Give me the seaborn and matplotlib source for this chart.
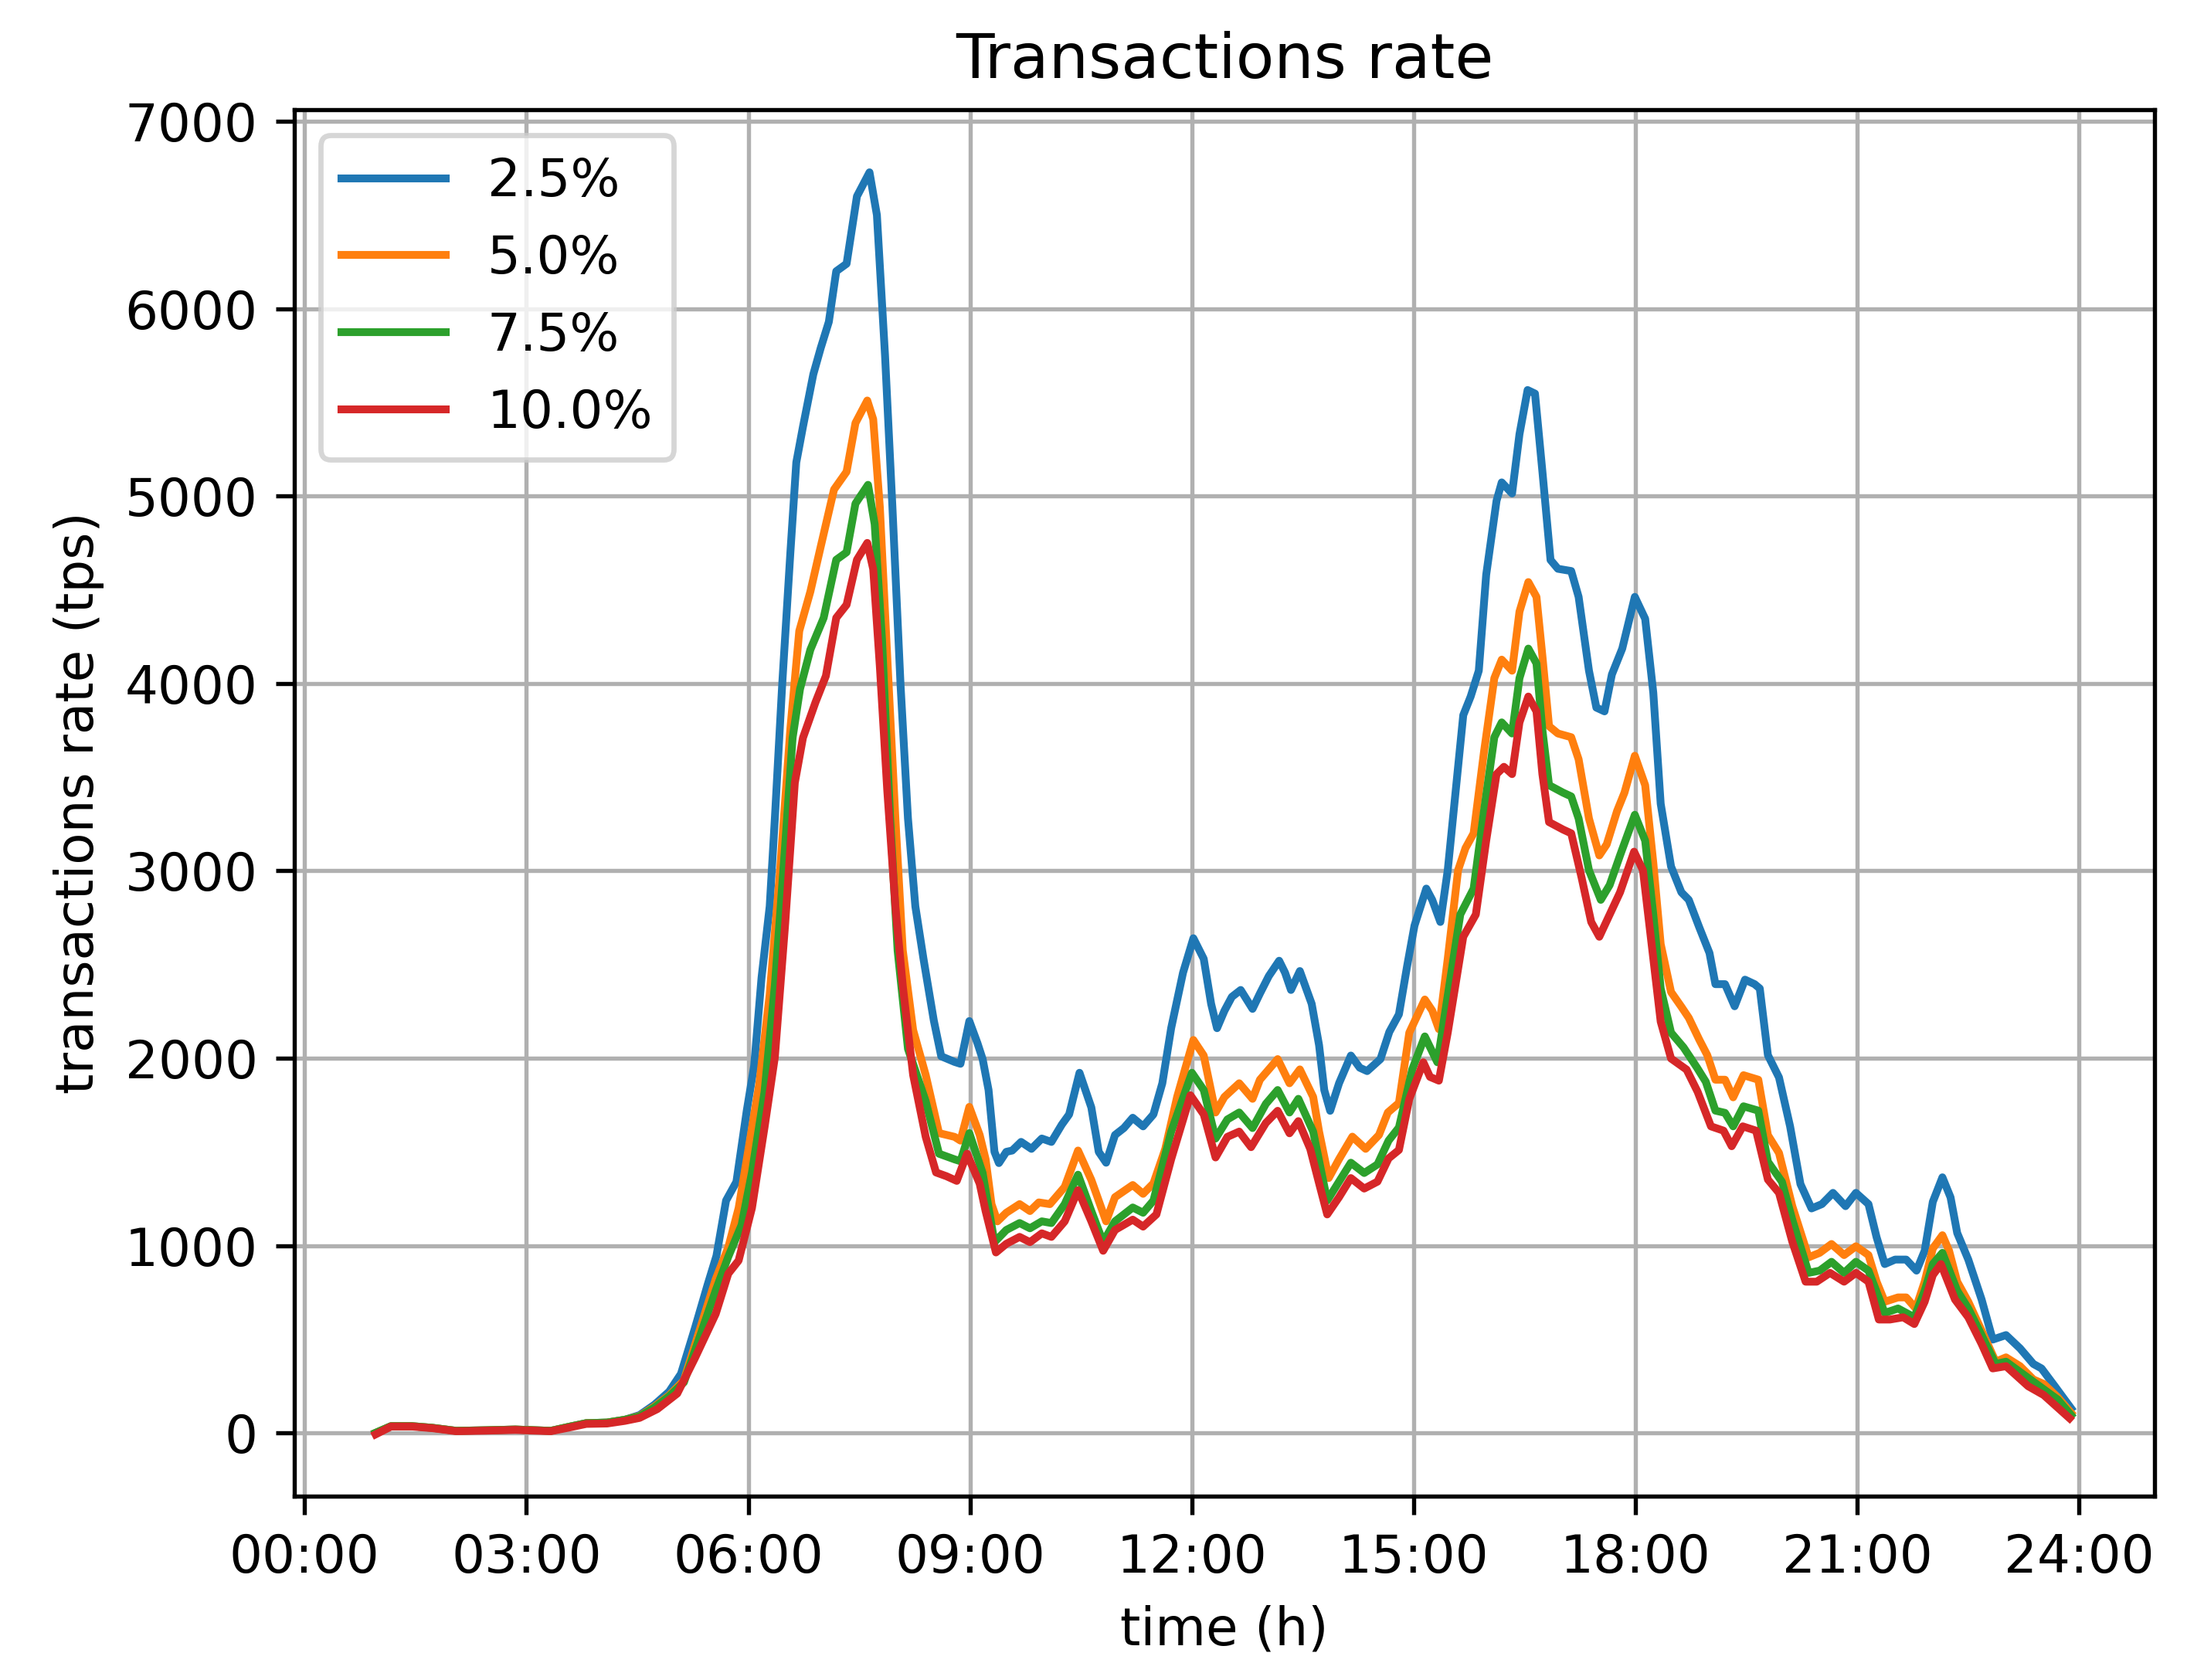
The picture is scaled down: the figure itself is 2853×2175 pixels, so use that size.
import matplotlib
matplotlib.use("Agg")
import matplotlib.pyplot as plt
from matplotlib.ticker import MultipleLocator, FuncFormatter
import seaborn as sns
import pandas as pd

# ---------------- data (hours, transactions per second) ----------------
labels = ["2.5%", "5.0%", "7.5%", "10.0%"]
colors = ["#1f77b4", "#ff7f0e", "#2ca02c", "#d62728"]

t_blue = [0.96, 1.17, 1.45, 1.73, 2.05, 2.45, 2.85, 3.33, 3.57, 3.81, 4.09, 4.33, 4.53, 4.73, 4.93,
          5.09, 5.28, 5.45, 5.57, 5.70, 5.84, 5.98, 6.08, 6.18, 6.29, 6.36, 6.46, 6.57, 6.65, 6.74,
          6.88, 6.98, 7.09, 7.19, 7.33, 7.47, 7.64, 7.74, 7.85, 7.95, 8.06, 8.16, 8.26, 8.37, 8.51,
          8.61, 8.79, 8.87, 8.99, 9.10, 9.17, 9.25, 9.33, 9.39, 9.49, 9.57, 9.69, 9.83, 9.97, 10.10,
          10.24, 10.34, 10.48, 10.64, 10.74, 10.84, 10.96, 11.08, 11.20, 11.34, 11.48, 11.60, 11.72,
          11.88, 12.02, 12.16, 12.26, 12.34, 12.44, 12.54, 12.66, 12.82, 12.92, 13.04, 13.18, 13.26,
          13.34, 13.46, 13.62, 13.72, 13.79, 13.87, 13.99, 14.15, 14.27, 14.37, 14.55, 14.67, 14.80,
          14.91, 15.01, 15.17, 15.25, 15.36, 15.46, 15.57, 15.67, 15.77, 15.88, 15.98, 16.12, 16.19,
          16.33, 16.43, 16.54, 16.64, 16.74, 16.85, 16.95, 17.13, 17.23, 17.37, 17.47, 17.58, 17.68,
          17.82, 17.99, 18.13, 18.24, 18.34, 18.48, 18.62, 18.72, 18.86, 19.00, 19.08, 19.21, 19.34,
          19.48, 19.61, 19.68, 19.79, 19.94, 20.09, 20.23, 20.38, 20.52, 20.67, 20.84, 20.98, 21.15,
          21.26, 21.37, 21.51, 21.66, 21.80, 21.91, 22.02, 22.15, 22.26, 22.35, 22.50, 22.68, 22.83,
          23.01, 23.20, 23.38, 23.49, 23.67, 23.89]
v_blue = [0, 36, 36, 27, 11, 14, 18, 11, 32, 52, 55, 70, 95, 150, 220,
          315, 560, 790, 945, 1240, 1340, 1720, 1960, 2430, 2810, 3280, 4000, 4700, 5180, 5370,
          5650, 5790, 5930, 6200, 6240, 6600, 6728, 6500, 5750, 4940, 3990, 3280, 2810, 2530, 2200,
          2010, 1980, 1970, 2198, 2080, 1995, 1830, 1500, 1440, 1500, 1507, 1553, 1516, 1571, 1553,
          1645, 1700, 1922, 1737, 1500, 1442, 1590, 1627, 1682, 1636, 1700, 1866, 2161,
          2456, 2640, 2530, 2290, 2160, 2253, 2327, 2364, 2263, 2345, 2438, 2520, 2456,
          2364, 2465, 2290, 2069, 1830, 1719, 1866, 2014, 1949, 1931, 1995, 2140, 2234,
          2490, 2707, 2905, 2845, 2727, 3003, 3437, 3831, 3930, 4068, 4580, 4975, 5073,
          5014, 5330, 5566, 5547, 5132, 4659, 4612, 4600, 4462, 4068, 3871, 3851, 4048,
          4186, 4462, 4345, 3950, 3358, 3023, 2885, 2845, 2700, 2561, 2395, 2395, 2277,
          2419, 2395, 2372, 2016, 1897, 1636, 1328, 1198, 1221, 1281, 1210, 1281, 1221,
          1044, 901, 925, 925, 866, 972, 1233, 1364, 1257, 1067, 925, 712, 498,
          522, 451, 368, 344, 249, 131]

t_orange = [0.96, 1.17, 1.45, 1.73, 2.05, 2.45, 2.85, 3.33, 3.57, 3.81, 4.09, 4.33, 4.53, 4.73, 4.93,
            5.13, 5.28, 5.56, 5.73, 5.87, 6.01, 6.15, 6.29, 6.43, 6.57, 6.69, 6.84, 6.98, 7.16, 7.33,
            7.45, 7.61, 7.69, 7.78, 7.88, 7.99, 8.09, 8.23, 8.40, 8.58, 8.79, 8.87, 8.99, 9.13, 9.21,
            9.29, 9.37, 9.49, 9.67, 9.81, 9.93, 10.08, 10.28, 10.46, 10.64, 10.84, 10.96, 11.20, 11.34,
            11.48, 11.64, 11.80, 12.02, 12.16, 12.32, 12.44, 12.64, 12.82, 12.92, 13.16, 13.32, 13.46,
            13.64, 13.72, 13.85, 13.99, 14.17, 14.35, 14.53, 14.65, 14.80, 14.94, 15.15, 15.25, 15.34,
            15.46, 15.60, 15.70, 15.81, 15.95, 16.09, 16.19, 16.33, 16.43, 16.55, 16.66, 16.74, 16.83,
            16.95, 17.13, 17.23, 17.37, 17.51, 17.61, 17.75, 17.85, 17.99, 18.13, 18.24, 18.34, 18.48,
            18.62, 18.72, 18.86, 18.97, 19.08, 19.21, 19.32, 19.46, 19.66, 19.79, 19.94, 20.12, 20.34,
            20.49, 20.65, 20.82, 20.98, 21.15, 21.26, 21.37, 21.55, 21.66, 21.79, 21.91, 22.02, 22.15,
            22.24, 22.35, 22.50, 22.68, 22.87, 23.01, 23.20, 23.38, 23.52, 23.71, 23.89]
v_orange = [0, 36, 36, 27, 11, 14, 18, 11, 32, 52, 55, 70, 90, 140, 200,
            280, 470, 820, 990, 1200, 1530, 1865, 2340, 3000, 3760, 4280, 4490, 4730, 5035, 5130,
            5390, 5510, 5410, 4940, 4140, 3280, 2575, 2150, 1910, 1600, 1580, 1560, 1740, 1590, 1461,
            1221, 1129, 1175, 1221, 1184, 1230, 1221, 1313, 1507, 1350, 1129, 1258, 1323, 1276,
            1332, 1516, 1793, 2097, 2014, 1710, 1793, 1866, 1783, 1885, 1995, 1866, 1940,
            1793, 1608, 1360, 1461, 1581, 1516, 1590, 1710, 1761, 2136, 2313, 2254, 2155,
            2530, 3003, 3121, 3200, 3634, 4028, 4127, 4068, 4383, 4541, 4462, 4147, 3772,
            3733, 3713, 3595, 3279, 3082, 3141, 3319, 3417, 3614, 3457, 3043, 2609, 2353,
            2274, 2215, 2100, 2016, 1885, 1885, 1791, 1909, 1885, 1589, 1494, 1210, 937,
            961, 1008, 949, 996, 949, 807, 700, 723, 723, 664, 807, 984, 1055,
            972, 807, 700, 546, 380, 403, 356, 285, 261, 190, 107]

t_green = [0.96, 1.17, 1.45, 1.73, 2.05, 2.45, 2.85, 3.33, 3.57, 3.81, 4.09, 4.33, 4.53, 4.73, 4.93,
           5.13, 5.28, 5.56, 5.73, 5.91, 6.05, 6.22, 6.36, 6.50, 6.60, 6.70, 6.84, 7.02, 7.19, 7.33,
           7.45, 7.62, 7.71, 7.81, 7.92, 8.02, 8.16, 8.40, 8.58, 8.79, 8.87, 8.99, 9.17, 9.33, 9.49,
           9.67, 9.81, 9.97, 10.10, 10.28, 10.46, 10.64, 10.80, 10.96, 11.20, 11.34, 11.48, 11.72,
           12.00, 12.16, 12.32, 12.48, 12.64, 12.82, 13.00, 13.16, 13.32, 13.44, 13.64, 13.83, 13.99,
           14.15, 14.33, 14.51, 14.66, 14.80, 14.98, 15.15, 15.32, 15.46, 15.63, 15.81, 15.95, 16.09,
           16.19, 16.33, 16.43, 16.55, 16.66, 16.74, 16.83, 17.02, 17.13, 17.23, 17.37, 17.53, 17.65,
           17.79, 17.99, 18.13, 18.24, 18.34, 18.48, 18.65, 18.83, 18.95, 19.08, 19.21, 19.32, 19.46,
           19.66, 19.79, 19.98, 20.12, 20.34, 20.49, 20.65, 20.82, 20.98, 21.15, 21.37, 21.55, 21.77,
           21.91, 22.02, 22.15, 22.35, 22.50, 22.68, 22.87, 23.01, 23.38, 23.71, 23.89]
v_green = [0, 36, 36, 27, 11, 14, 18, 11, 32, 52, 55, 70, 88, 135, 195,
           270, 440, 760, 940, 1110, 1390, 1820, 2390, 3140, 3710, 3970, 4180, 4350, 4660, 4700,
           4960, 5060, 4850, 4230, 3280, 2575, 2050, 1770, 1490, 1460, 1450, 1600, 1387, 1018, 1083,
           1120, 1092, 1129, 1120, 1221, 1378, 1184, 1018, 1129, 1203, 1175, 1240, 1608,
           1922, 1830, 1571, 1673, 1710, 1627, 1756, 1830, 1710, 1783, 1608, 1240, 1341,
           1442, 1387, 1433, 1560, 1630, 1940, 2116, 1978, 2333, 2767, 2905, 3319, 3713,
           3792, 3733, 4028, 4186, 4107, 3752, 3457, 3417, 3397, 3279, 3003, 2845, 2924,
           3082, 3299, 3161, 2767, 2372, 2136, 2057, 1950, 1874, 1720, 1708, 1636, 1743,
           1720, 1447, 1340, 1138, 854, 866, 913, 854, 913, 866, 640, 664, 617,
           759, 901, 961, 759, 664, 522, 368, 380, 273, 178, 95]

t_red = [0.96, 1.17, 1.45, 1.73, 2.05, 2.45, 2.85, 3.33, 3.57, 3.81, 4.09, 4.33, 4.53, 4.77, 5.04,
         5.28, 5.56, 5.73, 5.87, 6.05, 6.22, 6.36, 6.50, 6.63, 6.74, 6.91, 7.05, 7.19, 7.33, 7.47,
         7.61, 7.69, 7.78, 7.88, 7.99, 8.09, 8.23, 8.40, 8.54, 8.68, 8.82, 8.96, 9.13, 9.21, 9.35,
         9.49, 9.67, 9.81, 9.97, 10.10, 10.28, 10.46, 10.64, 10.80, 10.96, 11.20, 11.34, 11.52, 11.72,
         11.98, 12.16, 12.32, 12.48, 12.64, 12.80, 13.00, 13.16, 13.32, 13.44, 13.60, 13.72, 13.83,
         13.99, 14.15, 14.33, 14.51, 14.66, 14.80, 14.94, 15.13, 15.22, 15.34, 15.46, 15.67, 15.84,
         15.98, 16.12, 16.22, 16.33, 16.43, 16.55, 16.66, 16.74, 16.83, 17.02, 17.13, 17.27, 17.40,
         17.51, 17.65, 17.79, 17.98, 18.10, 18.24, 18.34, 18.48, 18.69, 18.84, 19.02, 19.19, 19.30,
         19.45, 19.63, 19.79, 19.94, 20.12, 20.30, 20.45, 20.63, 20.82, 20.98, 21.15, 21.29, 21.44,
         21.62, 21.77, 21.91, 22.02, 22.13, 22.32, 22.50, 22.68, 22.83, 23.01, 23.31, 23.52, 23.87]
v_red = [-8, 34, 34, 25, 9, 12, 16, 9, 28, 48, 50, 64, 80, 127, 210,
         400, 635, 850, 920, 1200, 1630, 2005, 2720, 3470, 3710, 3900, 4040, 4350, 4420, 4660,
         4750, 4610, 4090, 3430, 2810, 2385, 1910, 1580, 1390, 1370, 1345, 1490, 1330, 1184, 963,
         1009, 1046, 1018, 1065, 1046, 1129, 1295, 1129, 972, 1083, 1138, 1101, 1166, 1461,
         1802, 1700, 1470, 1580, 1608, 1525, 1654, 1719, 1599, 1664, 1516, 1332, 1166,
         1258, 1360, 1304, 1341, 1465, 1510, 1782, 1978, 1900, 1880, 2136, 2648, 2767,
         3161, 3516, 3555, 3516, 3792, 3930, 3851, 3516, 3260, 3220, 3200, 2964, 2727,
         2648, 2767, 2885, 3102, 3003, 2530, 2195, 1998, 1939, 1820, 1636, 1613, 1530,
         1636, 1613, 1352, 1281, 1020, 807, 807, 854, 807, 854, 807, 605, 605,
         617, 581, 700, 842, 901, 712, 617, 475, 344, 356, 249, 202, 78]

x_ticks = list(range(0, 25, 3))

# ---------------- figure ----------------
DPI = 486
fig = plt.figure(figsize=(2853 / DPI, 2175 / DPI), dpi=DPI)
ax = fig.add_axes([0.1335, 0.1094, 0.9776 - 0.1335, 0.9349 - 0.1094])

series = [(t_blue, v_blue), (t_orange, v_orange), (t_green, v_green), (t_red, v_red)]
for (tt, vv), lab, col in zip(series, labels, colors):
    df = pd.DataFrame({"time": tt, "rate": vv})
    sns.lineplot(data=df, x="time", y="rate", ax=ax, color=col, label=lab,
                 linewidth=1.5, estimator=None)

ax.set_xlim(-0.14, 25.02)
ax.set_ylim(-338, 7064)
ax.set_xticks(x_ticks)
ax.xaxis.set_major_formatter(FuncFormatter(lambda v, p: f"{int(round(v)):02d}:00"))
ax.yaxis.set_major_locator(MultipleLocator(1000))
ax.grid(True, color="#b0b0b0", linewidth=0.8)
ax.set_axisbelow(True)

ax.set_title("Transactions rate", fontsize=12)
ax.set_xlabel("time (h)", fontsize=10)
ax.set_ylabel("transactions rate (tps)", fontsize=10)
ax.legend(loc="upper left", fontsize=10)

fig.savefig("out.png", dpi=DPI)
